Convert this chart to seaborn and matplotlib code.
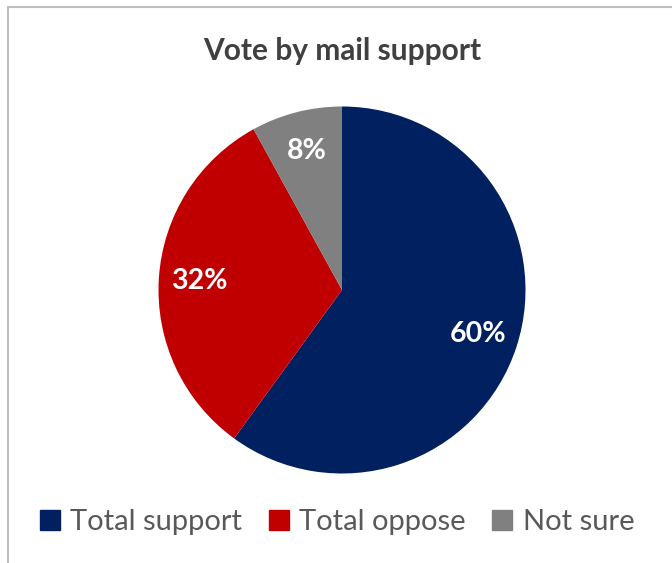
import matplotlib
matplotlib.use("Agg")
import matplotlib.pyplot as plt
import matplotlib.patches as mpatches
import seaborn as sns

categories = ["Total support", "Total oppose", "Not sure"]
values = [60, 32, 8]
colors = ["#002060", "#C00000", "#808080"]
title = "Vote by mail support"

sns.set_theme(style="white")
plt.rcParams["font.family"] = ["Lato", "DejaVu Sans"]
palette = sns.color_palette(colors)

W, H = 672, 563
fig = plt.figure(figsize=(W / 100, H / 100), dpi=100)
fig.patch.set_facecolor("white")

cx, cy, r = 342, 290, 183.5
ax = fig.add_axes([(cx - r) / W, (H - cy - r) / H, 2 * r / W, 2 * r / H])
wedges, texts, autotexts = ax.pie(
    values, colors=palette, startangle=90, counterclock=False,
    autopct=lambda p: f"{p:.0f}%", pctdistance=0.78,
    wedgeprops=dict(linewidth=0),
    textprops=dict(color="white", fontsize=20.5, fontweight="bold"),
)
ax.set_xlim(-1, 1)
ax.set_ylim(-1, 1)
ax.set_aspect("equal")
ax.axis("off")

fig.text(cx / W, 1 - 51 / H, title, ha="center", va="center",
         fontsize=21.5, fontweight="bold", color="#404040")

handles = [mpatches.Patch(color=c, label=l) for c, l in zip(palette, categories)]
fig.legend(handles=handles, loc="center", bbox_to_anchor=(337 / W, 1 - 522 / H),
           ncol=3, frameon=False, fontsize=21, labelcolor="#595959",
           handlelength=0.7, handleheight=0.7, handletextpad=0.35, columnspacing=0.9)

border = mpatches.Rectangle((7.5 / W, -0.1), 1.2, 1.1 - 7.5 / H, transform=fig.transFigure,
                            fill=False, edgecolor="#BFBFBF", linewidth=1.5)
fig.patches.append(border)

fig.savefig("out.png", dpi=100)
